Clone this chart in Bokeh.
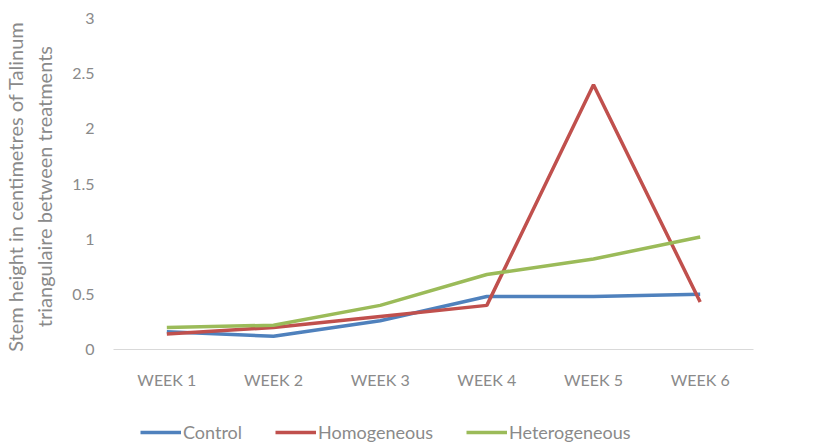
from bokeh.plotting import figure
from bokeh.layouts import column
from bokeh.models import FactorRange, Range1d, Legend, LegendItem, FixedTicker, ColumnDataSource
from bokeh.embed import file_html
from bokeh.resources import INLINE

weeks = ["WEEK 1", "WEEK 2", "WEEK 3", "WEEK 4", "WEEK 5", "WEEK 6"]
control = [0.16, 0.12, 0.26, 0.48, 0.48, 0.50]
homogeneous = [0.14, 0.20, 0.30, 0.40, 2.40, 0.43]
heterogeneous = [0.20, 0.22, 0.40, 0.68, 0.82, 1.02]
y_ticks = [0, 0.5, 1, 1.5, 2, 2.5, 3]
series_names = ["Control", "Homogeneous", "Heterogeneous"]
colors = ["#4F81BD", "#C0504D", "#9BBB59"]

FONT = "Lato"
GRAY = "#8a8a8a"

p = figure(width=821, height=400, x_range=FactorRange(*weeks), y_range=Range1d(0, 3),
           output_backend="svg", toolbar_location=None,
           min_border_left=113, min_border_right=68, min_border_top=18, min_border_bottom=51)
p.outline_line_color = None
p.grid.grid_line_color = None

for name, vals, c in zip(series_names, [control, homogeneous, heterogeneous], colors):
    src = ColumnDataSource(dict(x=weeks, y=vals))
    p.line("x", "y", source=src, line_color=c, line_width=3.5)

# y axis
p.yaxis.ticker = FixedTicker(ticks=y_ticks)
p.yaxis.axis_line_color = None
p.yaxis.major_tick_line_color = None
p.yaxis.minor_tick_line_color = None
p.yaxis.major_label_text_font = FONT
p.yaxis.major_label_text_font_size = "16px"
p.yaxis.major_label_text_color = GRAY
p.yaxis.major_label_standoff = 13
p.yaxis.axis_label = "Stem height  in centimetres of Talinum\ntriangulaire  between treatments"
p.yaxis.axis_label_text_font = FONT
p.yaxis.axis_label_text_font_size = "20px"
p.yaxis.axis_label_text_font_style = "normal"
p.yaxis.axis_label_text_color = GRAY
p.yaxis.axis_label_standoff = 13

# x axis
p.xaxis.axis_line_color = "#d9d9d9"
p.xaxis.axis_line_width = 1
p.xaxis.major_tick_line_color = None
p.xaxis.minor_tick_line_color = None
p.xaxis.major_label_text_font = FONT
p.xaxis.major_label_text_font_size = "16px"
p.xaxis.major_label_text_color = GRAY
p.xaxis.major_label_standoff = 14

# legend strip below the chart
q = figure(width=821, height=44, x_range=Range1d(0, 1), y_range=Range1d(0, 1),
           output_backend="svg", toolbar_location=None,
           min_border_left=0, min_border_right=0, min_border_top=0, min_border_bottom=0,
           x_axis_location=None, y_axis_location=None)
q.outline_line_color = None
q.grid.grid_line_color = None
items = []
for name, c in zip(series_names, colors):
    r = q.line([-5, -4], [-5, -5], line_color=c, line_width=3.5)
    items.append(LegendItem(label=name, renderers=[r]))
legend = Legend(items=items, orientation="horizontal", location=(27, 1),
                glyph_width=41, glyph_height=18, label_standoff=2, spacing=33,
                padding=0, margin=0, border_line_color=None, background_fill_alpha=0,
                label_text_font=FONT, label_text_font_size="18px", label_text_color=GRAY)
q.add_layout(legend)

layout = column(p, q, spacing=0)
open("out.html", "w").write(file_html(layout, INLINE))
